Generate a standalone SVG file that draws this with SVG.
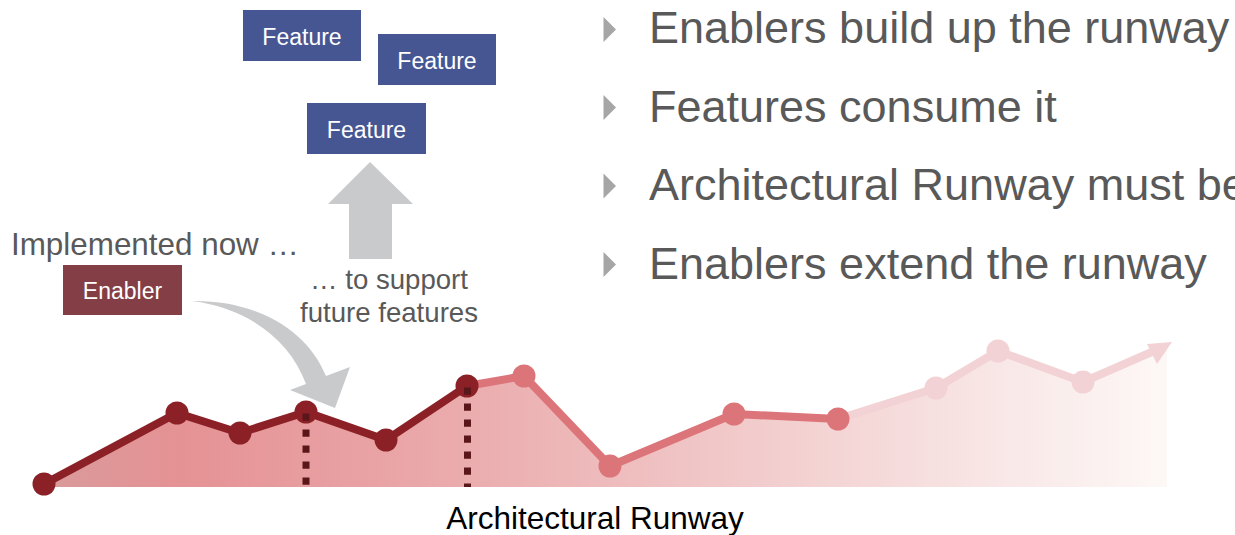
<svg xmlns="http://www.w3.org/2000/svg" width="1235" height="535" viewBox="0 0 1235 535">
  <style>
    .lbl { font-family: "Liberation Sans", Arial, sans-serif; }
    .box-feature { fill: #465693; }
    .box-enabler { fill: #843f46; }
    .box-text { fill: #ffffff; font-size: 23px; text-anchor: middle; }
    .note { fill: #595959; }
    .bullet-text { fill: #595959; font-size: 45px; }
    .bullet { fill: #a6a6a6; }
    .big-arrow { fill: #c9cacc; }
    .seg-dark { stroke: #8b2126; stroke-width: 8; fill: none; stroke-linejoin: round; }
    .seg-mid { stroke: #dc7579; stroke-width: 8; fill: none; stroke-linejoin: round; }
    .seg-light { stroke: #f2d2d4; stroke-width: 8; fill: none; stroke-linejoin: round; }
    .dot-dark { fill: #8b2126; }
    .dot-mid { fill: #dc7579; }
    .dot-light { fill: #f2d2d4; }
    .marker-line { stroke: #5b161a; stroke-width: 7; stroke-dasharray: 7.3 8.7; fill: none; }
  </style>
  <defs>
    <linearGradient id="runwayFill" gradientUnits="userSpaceOnUse" x1="44" y1="0" x2="1167" y2="0">
      <stop offset="0" stop-color="#d99a9b"/>
      <stop offset="0.12" stop-color="#e59294"/>
      <stop offset="0.3" stop-color="#e9a3a5"/>
      <stop offset="0.5" stop-color="#eebbbc"/>
      <stop offset="0.7" stop-color="#f4d4d4"/>
      <stop offset="0.85" stop-color="#f8e7e6"/>
      <stop offset="1" stop-color="#fdf8f6"/>
    </linearGradient>
  </defs>

  <!-- runway area under the line -->
  <polygon id="runway-area" fill="url(#runwayFill)"
    points="44,484 177,413 240,433 306,412 386,440 467,386 524,376 610,466 734,414 838,419 936,388 998,351 1083,382 1167,345 1167,487 44,487"/>

  <!-- connectors: runway line, markers, arrows -->
  <g id="connectors">
    <polyline class="seg-dark" points="44,484 177,413 240,433 306,412 386,440 467,386"/>
    <polyline class="seg-mid" points="467,386 524,376 610,466 734,414 838,419"/>
    <polyline class="seg-light" points="838,419 936,388 998,351 1083,382 1154,351"/>
    <polygon class="dot-light" points="1172,342 1147,344 1157,364"/>

    <!-- curved arrow from enabler down to the runway -->
    <path id="enabler-arrow" class="big-arrow"
      d="M192,301 C250,300 305,325 326,376 L350,367 L335,408 L290,390 L306,384 C290,340 248,308 192,301 Z"/>

    <!-- upward arrow towards features -->
    <polygon id="support-arrow" class="big-arrow" points="370,162 413,204 392,204 392,259 349,259 349,204 328,204"/>
  </g>

  <!-- runway points -->
  <g id="runway-points">
    <circle class="dot-dark" cx="44" cy="484" r="11.5"/>
    <circle class="dot-dark" cx="177" cy="413" r="11.5"/>
    <circle class="dot-dark" cx="240" cy="433" r="11.5"/>
    <circle class="dot-dark" cx="306" cy="412" r="11.5"/>
    <circle class="dot-dark" cx="386" cy="440" r="11.5"/>
    <circle class="dot-dark" cx="467" cy="386" r="11.5"/>
    <circle class="dot-mid" cx="524" cy="376" r="11.5"/>
    <circle class="dot-mid" cx="610" cy="466" r="11.5"/>
    <circle class="dot-mid" cx="734" cy="414" r="11.5"/>
    <circle class="dot-mid" cx="838" cy="419" r="11.5"/>
    <circle class="dot-light" cx="936" cy="388" r="11.5"/>
    <circle class="dot-light" cx="998" cy="351" r="11.5"/>
    <circle class="dot-light" cx="1083" cy="382" r="11.5"/>
  </g>

  <!-- dotted markers dropping from runway points -->
  <g id="markers">
    <line class="marker-line" x1="306" y1="413.5" x2="306" y2="487"/>
    <line class="marker-line" x1="467.5" y1="387.5" x2="467.5" y2="487"/>
  </g>

  <!-- feature boxes -->
  <g id="feature-1">
    <rect class="box-feature" x="243" y="10" width="118" height="51"/>
    <text class="lbl box-text" x="302" y="45">Feature</text>
  </g>
  <g id="feature-2">
    <rect class="box-feature" x="378" y="34" width="118" height="51"/>
    <text class="lbl box-text" x="437" y="69">Feature</text>
  </g>
  <g id="feature-3">
    <rect class="box-feature" x="307" y="103" width="119" height="51"/>
    <text class="lbl box-text" x="366.5" y="137.5">Feature</text>
  </g>

  <!-- enabler box -->
  <g id="enabler">
    <rect class="box-enabler" x="63" y="265" width="119" height="50"/>
    <text class="lbl box-text" x="122.5" y="298.5">Enabler</text>
  </g>

  <!-- annotations -->
  <g id="annotations">
    <text class="lbl note" x="11" y="255" font-size="31.4">Implemented now …</text>
    <text class="lbl note" x="389" y="288.5" font-size="27.6" text-anchor="middle">… to support</text>
    <text class="lbl note" x="389" y="322" font-size="27.6" text-anchor="middle">future features</text>
    <text class="lbl" x="595" y="529" font-size="31.5" fill="#000000" text-anchor="middle">Architectural Runway</text>
  </g>

  <!-- bullet list -->
  <g id="bullets">
    <polygon class="bullet" points="603.5,17 616,29.5 603.5,42"/>
    <text class="lbl bullet-text" x="649" y="43">Enablers build up the runway</text>
    <polygon class="bullet" points="603.5,95 616,107.5 603.5,120"/>
    <text class="lbl bullet-text" x="649" y="121.5">Features consume it</text>
    <polygon class="bullet" points="603.5,173.5 616,186 603.5,198.5"/>
    <text class="lbl bullet-text" x="649" y="200">Architectural Runway must be</text>
    <polygon class="bullet" points="603.5,252 616,264.5 603.5,277"/>
    <text class="lbl bullet-text" x="649" y="278.5">Enablers extend the runway</text>
  </g>
</svg>
